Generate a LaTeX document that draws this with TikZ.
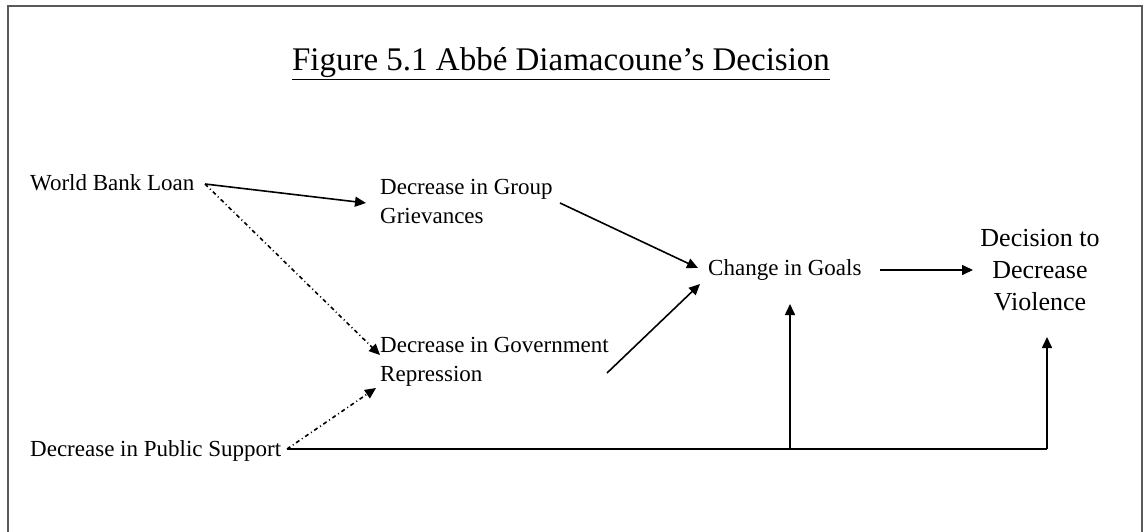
\documentclass[tikz,border=0pt]{standalone}
\usepackage{fontspec}
\setmainfont{Liberation Serif}
\usetikzlibrary{arrows.meta}
\begin{document}
\begin{tikzpicture}[x=1pt,y=-1pt,
  lbl/.style={inner sep=0pt,font=\fontsize{23}{29}\selectfont,align=left},
  big/.style={inner sep=0pt,font=\fontsize{26}{32}\selectfont,align=center},
  conn/.style={line width=1.6pt,-{Triangle[length=11pt,width=10pt]}},
  dd/.style={conn,dash pattern=on 4pt off 3pt on 1pt off 3pt}]
\useasboundingbox (0,0) rectangle (1144,531);
\draw[gray!70!black,line width=2pt] (8,540) -- (8,6) -- (1142,6) -- (1142,540);
\node[inner sep=0pt,font=\fontsize{33}{36}\selectfont] (title) at (561,64) {\underline{Figure 5.1 Abbé Diamacoune’s Decision}};
\node[lbl,anchor=west] (wb) at (30,183) {World Bank Loan};
\node[lbl,anchor=west] (gg) at (380,201) {Decrease in Group\\Grievances};
\node[lbl,anchor=west] (gr) at (380,362) {Decrease in Government\\Repression};
\node[lbl,anchor=west] (ps) at (30,451) {Decrease in Public Support};
\node[lbl,anchor=west] (cg) at (708,270) {Change in Goals};
\node[big] (dv) at (1040,270) {Decision to\\Decrease\\Violence};
\coordinate (wbe) at (205,184);
\coordinate (pse) at (287,449);
\coordinate (j1) at (790,449);
\coordinate (j2) at (1047,449);
\draw[conn] (wbe) -- (366,203);
\draw[dd] (wbe) -- (380,355);
\draw[dd] (pse) -- (376,388);
\draw[conn] (560,203) -- (698,268);
\draw[conn] (607,373) -- (700,284);
\draw[conn] (880,270) -- (973,270);
\draw[line width=1.6pt] (pse) -- (j2);
\draw[conn] (j1) -- (790,304);
\draw[conn] (j2) -- (j2|-0,337);
\end{tikzpicture}
\end{document}
